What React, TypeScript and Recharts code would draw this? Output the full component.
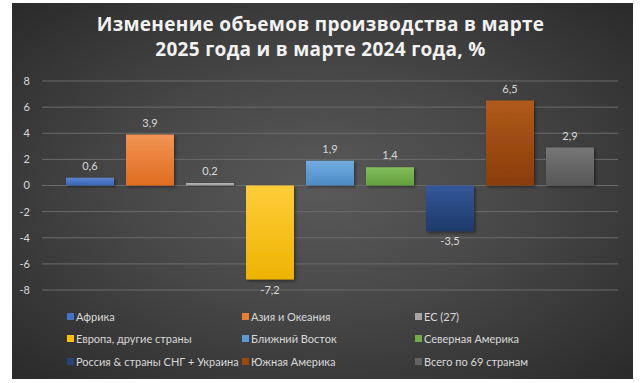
import React from "react";
import { BarChart, Bar, XAxis, YAxis, CartesianGrid, LabelList } from "recharts";

const seriesNames = [
  "Африка",
  "Азия и Океания",
  "ЕС (27)",
  "Европа, другие страны",
  "Ближний Восток",
  "Северная Америка",
  "Россия & страны СНГ + Украина",
  "Южная Америка",
  "Всего по 69 странам",
];
const seriesValues = [0.6, 3.9, 0.2, -7.2, 1.9, 1.4, -3.5, 6.5, 2.9];
const yTicks = [-8, -6, -4, -2, 0, 2, 4, 6, 8];
const titleLines = ["Изменение объемов производства в марте", "2025 года и в марте 2024 года, %"];

const baseColors = ["#4472c4", "#ed7d31", "#a5a5a5", "#ffc000", "#5b9bd5", "#70ad47", "#264478", "#9e480e", "#636363"];
const topColors = ["#5a86d4", "#f39455", "#b8b8b8", "#ffcd3a", "#72ace0", "#83bd5c", "#34579a", "#b05a1c", "#767676"];
const bottomColors = ["#3a64b0", "#de6c1e", "#959595", "#eeb300", "#4c8bc6", "#62a03c", "#1e3a6a", "#8a3c08", "#575757"];

const keys = seriesNames.map((_, i) => `s${i}`);
const row: Record<string, any> = { name: "all" };
keys.forEach((k, i) => (row[k] = seriesValues[i]));
const data = [row];

const fmt = (v: number) => String(v).replace(".", ",");

const renderLabel = (props: any) => {
  const { x, y, width, height, value } = props;
  const top = Math.min(y, y + height);
  const bottom = Math.max(y, y + height);
  const cx = x + width / 2;
  const ty = value >= 0 ? top - 8 : bottom + 14;
  return (
    <text x={cx} y={ty} textAnchor="middle" fill="#d9d9d9" fontSize={11} fontFamily="Lato">
      {fmt(value)}
    </text>
  );
};

export default function App() {
  return (
    <div style={{ position: "absolute", left: 0, top: 0, width: 641, height: 383, background: "#ffffff" }}>
      <div
        style={{
          position: "absolute",
          left: 12,
          top: 3,
          width: 621,
          height: 376,
          background: "radial-gradient(ellipse at 50% 50%, #595959 0%, #474747 45%, #2a2a2a 100%)",
        }}
      />
      <div
        style={{
          position: "absolute",
          left: 0,
          top: 12,
          width: 641,
          textAlign: "center",
          fontFamily: "'Open Sans'",
          fontWeight: 700,
          fontSize: 19,
          lineHeight: "25px",
          color: "#f2f2f2",
          letterSpacing: 0.3,
        }}
      >
        {titleLines.map((t) => (
          <div key={t}>{t}</div>
        ))}
      </div>
      <div style={{ position: "absolute", left: 0, top: 0 }}>
        <BarChart
          width={641}
          height={383}
          data={data}
          margin={{ top: 81, right: 23, bottom: 93, left: 0 }}
          barCategoryGap={24}
          barGap={12}
        >
          <defs>
            {baseColors.map((c, i) => (
              <linearGradient key={c} id={`g${i}`} x1="0" y1="0" x2="0" y2="1">
                <stop offset="0%" stopColor={topColors[i]} />
                <stop offset="100%" stopColor={bottomColors[i]} />
              </linearGradient>
            ))}
            <filter id="sh" x="-20%" y="-20%" width="140%" height="140%">
              <feDropShadow dx="1.5" dy="1.5" stdDeviation="1.5" floodColor="#000" floodOpacity="0.45" />
            </filter>
          </defs>
          <CartesianGrid vertical={false} stroke="#6b6b6b" strokeWidth={1} />
          <XAxis dataKey="name" hide height={0} />
          <YAxis
            width={42}
            domain={[-8, 8]}
            ticks={yTicks}
            allowDataOverflow
            axisLine={false}
            tickLine={false}
            tickMargin={6}
            tick={{ fill: "#d9d9d9", fontSize: 11, fontFamily: "Lato" }}
          />
          {keys.map((k, i) => (
            <Bar
              key={k}
              dataKey={k}
              name={seriesNames[i]}
              fill={`url(#g${i})`}
              barSize={48}
              isAnimationActive={false}
              style={{ filter: "url(#sh)" }}
            >
              <LabelList dataKey={k} content={renderLabel} />
            </Bar>
          ))}
        </BarChart>
      </div>
      <div
        style={{
          position: "absolute",
          left: 67,
          top: 308,
          display: "grid",
          gridTemplateColumns: "175px 173px 176px",
          rowGap: "6.5px",
          fontFamily: "Lato",
          fontSize: 11,
          color: "#d9d9d9",
        }}
      >
        {seriesNames.map((n, i) => (
          <div key={n} style={{ display: "flex", alignItems: "center", height: 16, whiteSpace: "nowrap" }}>
            <span style={{ display: "inline-block", width: 7, height: 7, background: baseColors[i], marginRight: 2 }} />
            <span>{n}</span>
          </div>
        ))}
      </div>
    </div>
  );
}
